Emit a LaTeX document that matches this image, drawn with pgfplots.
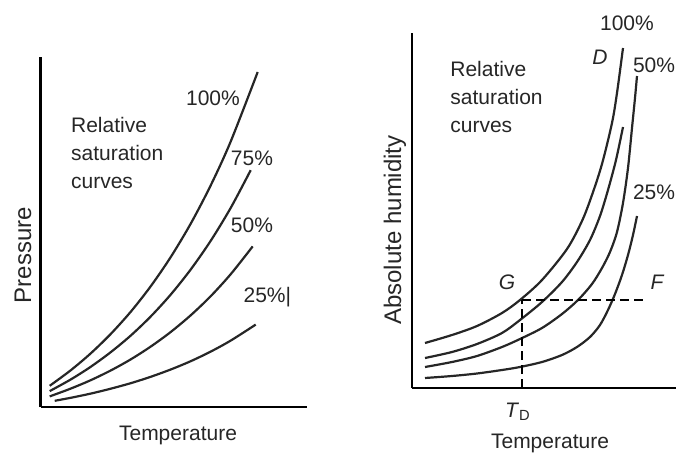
\documentclass[border=0pt]{standalone}
\usepackage{fontspec}
\setmainfont{Liberation Sans}
\usepackage{pgfplots}
\pgfplotsset{compat=1.18}

% both panels are schematic: axes carry no ticks, 1 data unit = 1 px of the reference
\pgfplotsset{
  sketch/.style={
    scale only axis,
    axis lines*=left,
    axis line style={black, line width=1.4pt, -},
    xtick=\empty, ytick=\empty,
    clip=false,
    anchor=south west,
  },
  curve/.style={black!85, line width=1.1pt, smooth, no markers},
  guide/.style={black, line width=1.1pt, dash pattern=on 4.5pt off 2.5pt, no markers},
}

\begin{document}
\begin{tikzpicture}[font=\fontsize{10.5}{14.2}\selectfont, every node/.style={text=black!85}]
\useasboundingbox (0,0) rectangle (338pt,228pt);

% ---- left: pressure vs temperature
\begin{axis}[sketch, at={(20.35pt,24.5pt)}, width=133pt, height=175pt,
  xmin=0, xmax=266, ymin=0, ymax=350]
  \addplot[curve] coordinates {(9,21.2)(30,36.7)(50,53.6)(70,73.0)(90,95.2)(110,120.7)(130,149.9)(150,183.3)(170,221.6)(190,265.5)(217,335.0)};
  \addplot[curve] coordinates {(9,15.9)(30,27.5)(50,40.2)(70,54.8)(90,71.4)(110,90.5)(130,112.4)(150,137.5)(170,166.2)(190,199.1)(210,236.8)};
  \addplot[curve] coordinates {(9,10.6)(30,18.4)(50,26.8)(70,36.5)(90,47.6)(110,60.4)(130,75.0)(150,91.7)(170,110.8)(190,132.8)(212,160.6)};
  \addplot[curve] coordinates {(14,6.2)(30,9.2)(50,13.4)(70,18.3)(90,23.8)(110,30.2)(130,37.5)(150,45.8)(170,55.4)(190,66.4)(215,82.4)};

  \node[anchor=west, align=left, inner sep=0pt] at (axis cs:30,254) {Relative\\saturation\\curves};
  \node at (axis cs:172.3,309) {100\%};
  \node at (axis cs:211.3,249) {75\%};
  \node at (axis cs:211.3,182) {50\%};
  \node[anchor=west, inner sep=0pt] at (axis cs:202.5,110) {25\%|};
  \node[rotate=90, font=\fontsize{12}{14}\selectfont] at (axis cs:-17.7,152) {Pressure};
  \node at (axis cs:137.3,-28) {Temperature};
\end{axis}

% ---- right: absolute humidity vs temperature
\begin{axis}[sketch, at={(206pt,34pt)}, width=132pt, height=177.5pt,
  xmin=0, xmax=264, ymin=0, ymax=355]
  % 100%
  \addplot[curve] coordinates {(13,45)(40,53)(65,62)(90,75)(108,88)(130,108)(155,139)(170,167)(180,193)(190,224)(200,265)(205,295)(211,340)};
  % 75%
  \addplot[curve] coordinates {(13,30)(40,36)(65,44)(90,55)(108,68)(130,86)(150,106)(165,126)(178,148)(188,172)(196,198)(204,228)(211,261)};
  % 50%
  \addplot[curve] coordinates {(13,21)(40,26)(65,32)(90,41)(108,49)(130,60)(150,74)(166,88)(180,104)(190,120)(198,136)(205,156)(211,185)(216,220)(220,260)(223,290)(225,312)};
  % 25%
  \addplot[curve] coordinates {(13,10)(40,12)(65,14.5)(90,18)(108,21)(130,26)(150,33)(165,41)(178,51)(188,63)(196,78)(203,94)(210,113)(216,133)(221,153)(225,172)};

  \addplot[guide] coordinates {(110,88)(235,88)};
  \addplot[guide] coordinates {(110,0)(110,88)};

  \node[anchor=west, align=left, inner sep=0pt] at (axis cs:38,291) {Relative\\saturation\\curves};
  \node at (axis cs:215,365) {100\%};
  \node at (axis cs:188,331) {\itshape D};
  \node[anchor=east, inner sep=0pt] at (axis cs:263.5,323) {50\%};
  \node[anchor=east, inner sep=0pt] at (axis cs:263.5,196) {25\%};
  \node at (axis cs:95,106) {\itshape G};
  \node at (axis cs:245,106) {\itshape F};
  \node at (axis cs:106,-24) {\textit{T}\textsubscript{D}};
  \node at (axis cs:138,-55) {Temperature};
  \node[rotate=90, font=\fontsize{12}{14}\selectfont] at (axis cs:-17,158) {Absolute humidity};
\end{axis}
\end{tikzpicture}
\end{document}
